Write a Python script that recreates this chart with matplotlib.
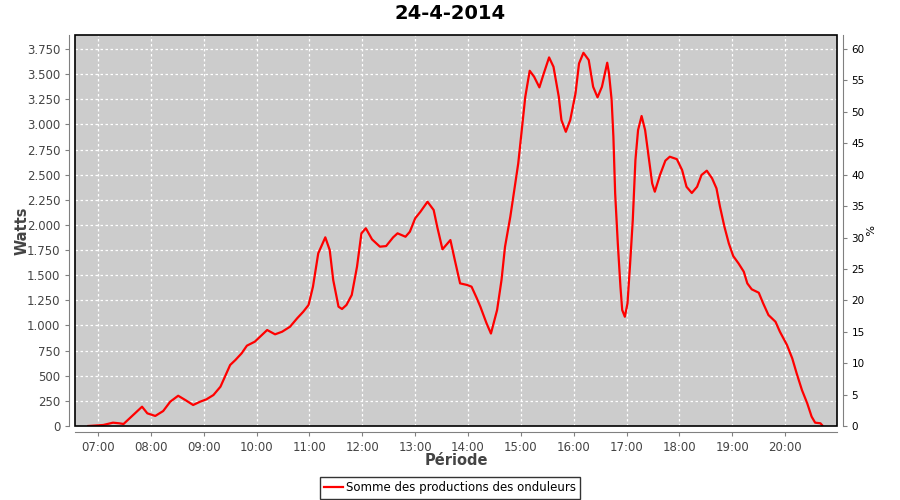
import matplotlib
matplotlib.use('Agg')
import matplotlib.pyplot as plt
from matplotlib.ticker import MultipleLocator, FuncFormatter
from matplotlib.patches import Rectangle

# heure -> puissance totale (W)
heures = ['06:49', '07:06', '07:17', '07:24', '07:29', '07:33', '07:40', '07:50', '07:56',
          '08:05', '08:14', '08:22', '08:31', '08:39', '08:48', '08:56', '09:03', '09:11',
          '09:19', '09:24', '09:30', '09:36', '09:43', '09:49', '09:58', '10:06', '10:12',
          '10:21', '10:29', '10:38', '10:46', '10:53', '10:59', '11:04', '11:10', '11:18',
          '11:23', '11:27', '11:33', '11:37', '11:42', '11:48', '11:54', '11:59', '12:04',
          '12:11', '12:20', '12:27', '12:35', '12:40', '12:49', '12:54', '13:00', '13:06',
          '13:14', '13:21', '13:25', '13:31', '13:40', '13:45', '13:51', '13:59', '14:04',
          '14:10', '14:14', '14:21', '14:26', '14:33', '14:38', '14:42', '14:48', '14:53',
          '14:57', '15:01', '15:05', '15:10', '15:15', '15:21', '15:26', '15:32', '15:37',
          '15:43', '15:46', '15:51', '15:56', '16:02', '16:06', '16:11', '16:17', '16:22',
          '16:27', '16:32', '16:38', '16:40', '16:43', '16:45', '16:47', '16:50', '16:53',
          '16:55', '16:58', '17:01', '17:04', '17:07', '17:10', '17:13', '17:17', '17:21',
          '17:25', '17:29', '17:32', '17:38', '17:44', '17:49', '17:57', '18:03', '18:08',
          '18:14', '18:20', '18:25', '18:31', '18:37', '18:42', '18:46', '18:51', '18:56',
          '19:01', '19:07', '19:13', '19:17', '19:22', '19:30', '19:35', '19:41', '19:49',
          '19:54', '20:02', '20:08', '20:13', '20:19', '20:25', '20:30', '20:34', '20:40',
          '20:42']
watts = [0, 10, 33, 27, 20, 53, 112, 192, 126,
         100, 149, 242, 301, 259, 209, 242, 265, 308,
         391, 490, 607, 657, 723, 799, 839, 905, 955,
         912, 938, 988, 1071, 1137, 1204, 1386, 1718, 1877,
         1751, 1452, 1187, 1164, 1204, 1303, 1585, 1917, 1967,
         1857, 1784, 1790, 1877, 1917, 1883, 1933, 2066, 2132,
         2231, 2149, 1983, 1758, 1850, 1651, 1419, 1403, 1386,
         1270, 1187, 1022, 920, 1154, 1452, 1784, 2082, 2380,
         2613, 2944, 3276, 3534, 3475, 3369, 3508, 3667, 3574,
         3276, 3044, 2927, 3044, 3310, 3607, 3713, 3641, 3375,
         3270, 3375, 3614, 3508, 3243, 2878, 2314, 1817, 1386,
         1154, 1087, 1220, 1618, 2049, 2646, 2944, 3084, 2944,
         2679, 2414, 2331, 2500, 2640, 2679, 2655, 2546, 2380,
         2318, 2380, 2497, 2540, 2464, 2364, 2181, 1983, 1817,
         1691, 1618, 1535, 1419, 1360, 1326, 1220, 1104, 1037,
         938, 806, 673, 524, 358, 226, 93, 33, 27,
         7]

tick_heures = list(range(7, 21))
titre = '24-4-2014'
serie = 'Somme des productions des onduleurs'
puissance_max = 6250   # 100 % (60 % = 3.750 W)

x = [int(h[:2]) + int(h[3:]) / 60 for h in heures]

gris = '#808080'
texte = '#444444'

fig = plt.figure(figsize=(9, 5), dpi=100)
ax = fig.add_axes([75/900, 74/500, 762/900, 391/500])
ax.set_facecolor('#cccccc')

ax.plot(x, watts, color='#ff0000', lw=1.6, label=serie, zorder=3)

ax.set_xlim(6.565, 20.98)
ax.set_ylim(0, 3890)
ax.set_xticks(tick_heures)
ax.xaxis.set_major_formatter(FuncFormatter(lambda v, p: '%02d:00' % int(round(v))))
ax.yaxis.set_major_locator(MultipleLocator(250))
ax.yaxis.set_major_formatter(FuncFormatter(lambda v, p: '{:,}'.format(int(v)).replace(',', '.')))

ax.grid(True, color='white', ls=(0, (2, 2)), lw=0.9)
ax.set_axisbelow(True)

for s in ['top', 'right']:
    ax.spines[s].set_visible(False)
for s in ['left', 'bottom']:
    ax.spines[s].set_position(('outward', 4))
    ax.spines[s].set_color(gris)
ax.tick_params(colors=gris, labelcolor=texte, labelsize=8.5, length=3, width=0.8)
ax.add_patch(Rectangle((0, 0), 1, 1, transform=ax.transAxes, fill=False,
                       edgecolor='black', lw=1.2, clip_on=False, zorder=4))

ax.set_xlabel('Période', fontsize=10.5, fontweight='bold', color=texte)
ax.set_ylabel('Watts', fontsize=10.5, fontweight='bold', color=texte)
ax.xaxis.set_label_coords(0.5, -0.069)
ax.yaxis.set_label_coords(-0.060, 0.5)

ax2 = ax.twinx()
ax2.set_ylim(0, 3890 / puissance_max * 100)
ax2.yaxis.set_major_locator(MultipleLocator(5))
for s in ['top', 'left', 'bottom']:
    ax2.spines[s].set_visible(False)
ax2.spines['right'].set_position(('outward', 4))
ax2.spines['right'].set_color(gris)
ax2.tick_params(colors=gris, labelcolor='black', labelsize=7.5, length=3, width=0.8)
ax2.set_ylabel('%', fontsize=8, rotation=-90)
ax2.yaxis.set_label_coords(1.046, 0.5)

fig.suptitle(titre, x=0.5, y=0.992, fontsize=14, fontweight='bold')

leg = fig.legend(loc='center', bbox_to_anchor=(0.5, 0.024), fontsize=8.5, frameon=True,
                 fancybox=False, handlelength=1.6, handletextpad=0.3,
                 borderpad=0.35, borderaxespad=0)
leg.get_frame().set_edgecolor('black')
leg.get_frame().set_linewidth(1)

fig.savefig('out.png', dpi=100)
plt.close()
